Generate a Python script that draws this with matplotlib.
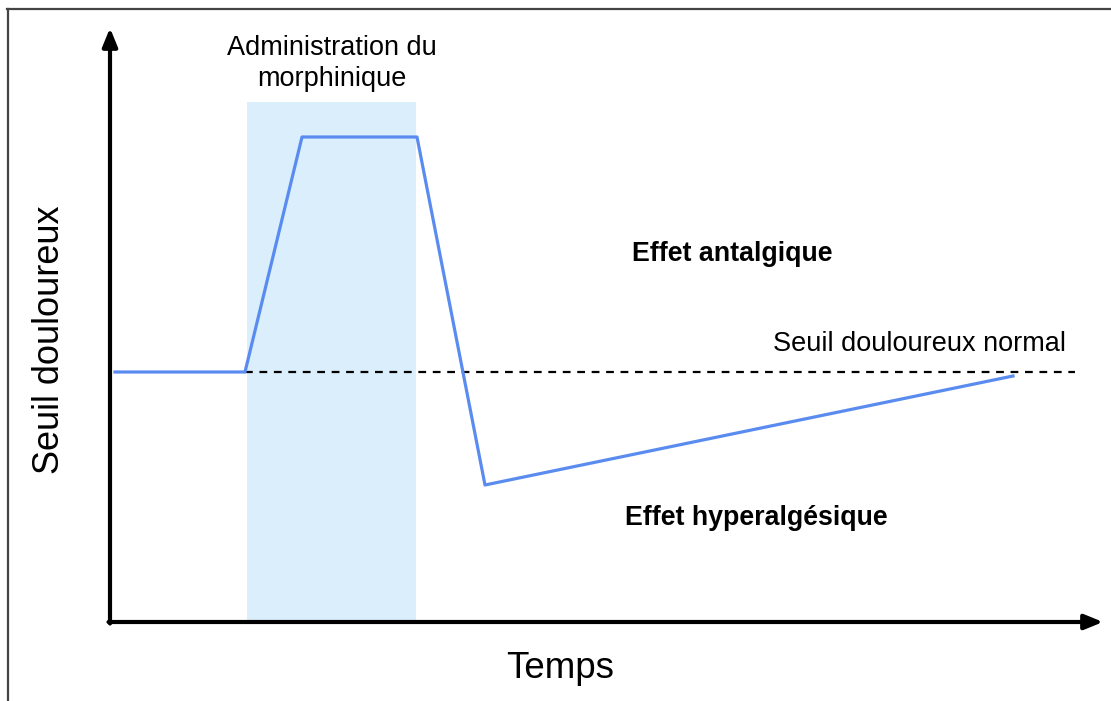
import matplotlib
matplotlib.use("Agg")
import matplotlib.pyplot as plt
from matplotlib.lines import Line2D

plt.rcParams['font.family'] = ['Liberation Sans', 'DejaVu Sans']

# Courbe du seuil douloureux (temps, seuil) en unites arbitraires
temps = [0.5, 13.5, 19.2, 30.7, 37.5, 90.3]
seuil = [50, 50, 97, 97, 27.4, 49.2]

seuil_normal = 50
dash_debut, dash_fin = 13.5, 96.5
admin_debut, admin_fin = 13.7, 30.6
admin_haut = 104

x_fleche = 99.3
y_fleche = 118.8

fig = plt.figure(figsize=(11.11, 7.01), dpi=100)
ax = fig.add_axes([0, 0, 1, 1])
ax.set_xlim(-11, 100.1)
ax.set_ylim(-15.8, 124.4)
ax.axis('off')

# zone d'administration
ax.fill_between([admin_debut, admin_fin], 0, admin_haut, color='#dbeefc', lw=0, zorder=1)

# seuil normal
ax.plot([dash_debut, dash_fin], [seuil_normal, seuil_normal], color='black',
        lw=1.6, linestyle=(0, (3.5, 3)), zorder=2)

# courbe
ax.plot(temps, seuil, color='#5a8cf0', lw=2.3, zorder=3)

# axes avec fleches
arrow = dict(arrowstyle='-|>,head_length=1.1,head_width=0.45', color='black',
             lw=3, shrinkA=0, shrinkB=0)
ax.annotate('', xy=(x_fleche, 0), xytext=(-0.15, 0), arrowprops=arrow, zorder=4)
ax.annotate('', xy=(0, y_fleche), xytext=(0, -0.3), arrowprops=arrow, zorder=4)

# textes
ax.text((admin_debut + admin_fin) / 2, 111.7, 'Administration du\nmorphinique',
        ha='center', va='center', fontsize=19.5, linespacing=1.25)
ax.text(95.6, 55.6, 'Seuil douloureux normal', ha='right', va='center', fontsize=19.5)
ax.text(62.2, 73.6, 'Effet antalgique', ha='center', va='center', fontsize=19.3,
        fontweight='bold')
ax.text(64.6, 20.8, 'Effet hyperalgésique', ha='center', va='center', fontsize=19.3,
        fontweight='bold')
ax.text(45, -9.3, 'Temps', ha='center', va='center', fontsize=26.5)
ax.text(-6, 56.4, 'Seuil douloureux', ha='center', va='center', fontsize=26,
        rotation=90)

# cadre gris
fig.add_artist(Line2D([7.5 / 1111, 7.5 / 1111], [0, 1 - 8.5 / 701],
                      color='#444444', lw=1.6, transform=fig.transFigure))
fig.add_artist(Line2D([7 / 1111, 1], [1 - 8.5 / 701, 1 - 8.5 / 701],
                      color='#444444', lw=1.6, transform=fig.transFigure))

fig.savefig('out.png', dpi=100)
